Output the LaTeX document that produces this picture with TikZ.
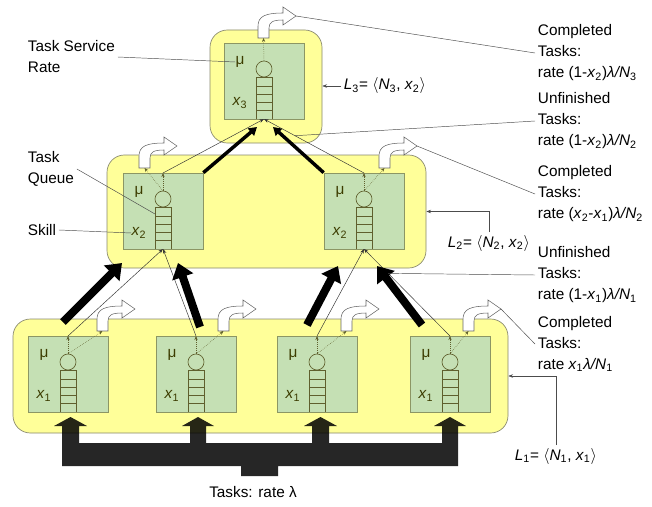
\documentclass[tikz,border=0pt]{standalone}
\usepackage{fontspec}
\setmainfont{Liberation Sans}
\usetikzlibrary{arrows.meta, calc, positioning}

\definecolor{groupyellow}{RGB}{255,255,153}
\definecolor{groupline}{RGB}{135,135,110}
\definecolor{agentgreen}{RGB}{197,224,180}
\definecolor{agentline}{RGB}{140,150,100}
\definecolor{olivetext}{RGB}{60,60,0}
\definecolor{queueline}{RGB}{95,95,45}

\tikzset{
  group/.style={draw=groupline, fill=groupyellow, rounded corners=13pt, inner sep=0pt, line width=0.5pt},
  agent/.style={draw=agentline, fill=agentgreen, minimum width=60pt, minimum height=57pt, inner sep=0pt, line width=0.5pt},
  agenttxt/.style={text=olivetext, inner sep=0pt, font=\fontsize{11.5}{14}\selectfont},
  queue/.style={draw=queueline, line width=0.5pt},
  outarrow/.style={draw=black!60, fill=white, line width=0.4pt},
  dotarrow/.style={densely dotted, draw=queueline, line width=0.4pt, -{Stealth[length=3pt,width=2.4pt]}},
  flow/.style={draw=black!80, line width=0.35pt, -{Stealth[length=3.5pt,width=2.6pt]}},
  bigflow/.style={line width=6pt, draw=black, -{Triangle[width=16pt,length=11pt]}},
  midflow/.style={line width=2.6pt, draw=black, -{Triangle[width=7pt,length=6pt]}},
  callout/.style={draw=black!70, line width=0.35pt},
  callarrow/.style={callout, -{Stealth[length=3.5pt,width=2.6pt]}},
  lbl/.style={font=\fontsize{11.5}{15.75}\selectfont, align=left, inner sep=2pt},
}

\begin{document}
\begin{tikzpicture}[x=0.75pt, y=-0.75pt]
    \useasboundingbox (0,0) rectangle (652,506);

    % levels
    \node[group, minimum width=84pt, minimum height=84.75pt] (g3) at (266,86.5) {};
    \node[group, minimum width=239.25pt, minimum height=84.75pt] (g2) at (266.5,211.5) {};
    \node[group, minimum width=371.25pt, minimum height=85.5pt] (g1) at (260.5,376) {};

    % incoming tasks
    \fill[black, fill opacity=0.85] (62,466) -- (62,426) -- (54,426) -- (70.5,417) -- (87,426) -- (79,426) -- (79,443)
        -- (190,443) -- (190,426) -- (182,426) -- (198,417) -- (214,426) -- (206,426) -- (206,443)
        -- (312,443) -- (312,426) -- (304,426) -- (320.5,417) -- (337,426) -- (329,426) -- (329,443)
        -- (442,443) -- (442,426) -- (434,426) -- (450,417) -- (466,426) -- (458,426) -- (458,466)
        -- (278,466) -- (278,476) -- (241,476) -- (241,466) -- cycle;

    % agents: name / x / y / skill index / offset of output arrow
    \foreach \n/\cx/\cy/\s/\ox in {t/264/81/3/-6, m1/163/211/2/-24, m2/364/211/2/15,
        b1/68/374/1/29, b2/196/374/1/22, b3/317/374/1/24, b4/450/374/1/13}{
        \node[agent] (\n) at (\cx,\cy) {};
        \node[agenttxt] (\n-mu) at (\cx-24,\cy-19) {μ};
        \node[agenttxt] (\n-x) at (\cx-24,\cy+22) {\textit{x}\textsubscript{\s}};
        \draw[queue] (\cx,\cy-12) circle[radius=6pt];
        \draw[queue] (\cx-8,\cy+38) -- (\cx-8,\cy-4) -- (\cx+8,\cy-4) -- (\cx+8,\cy+38);
        \foreach \q in {5,13,21,29}
            \draw[queue] (\cx-8,\cy+\q) -- (\cx+8,\cy+\q);
        \coordinate (\n-top) at (\cx,\cy-38);
        \coordinate (\n-bot) at (\cx,\cy+38);
        \coordinate (\n-srv) at (\cx,\cy-20);
        \coordinate (\n-qside) at (\cx-8,\cy+3);
        \coordinate (\n-out) at (\cx+\ox,\cy-43);
        \coordinate (\n-outc) at (\cx+\ox+5.5,\cy-43);
        \coordinate (\n-tip) at (\cx+\ox+38,\cy-65);
        \draw[outarrow, shift={(\n-out)}] (0,0) -- (0,-12) .. controls (0,-22) and (8,-25) .. (25,-25)
            -- (25,-31) -- (38,-22) -- (25,-13) -- (25,-18) .. controls (15,-18) and (11,-16) .. (11,-10) -- (11,0) -- cycle;
    }

    \foreach \n in {m1,m2,b1,b2,b3,b4}
        \draw[dotarrow] (\n-srv) -- (\n-top);
    \foreach \n in {t,m1,m2,b1,b2,b3,b4}
        \draw[dotarrow] (\n-srv) -- (\n-outc);

    % unfinished tasks passed upwards
    \draw[flow] (b1-top) -- (m1-bot);
    \draw[flow] (b2-top) -- (m1-bot);
    \draw[flow] (b3-top) -- (m2-bot);
    \draw[flow] (b4-top) -- (m2-bot);
    \draw[flow] (m1-top) -- (t-bot);
    \draw[flow] (m2-top) -- (t-bot);

    % level to level
    \coordinate (u1) at (63,322);  \coordinate (v1) at (122,263);
    \coordinate (u2) at (200,327); \coordinate (v2) at (178,263);
    \coordinate (u3) at (307,325); \coordinate (v3) at (338,266);
    \coordinate (u4) at (422,325); \coordinate (v4) at (377,266);
    \draw[bigflow] (u1) -- (v1);
    \draw[bigflow] (u2) -- (v2);
    \draw[bigflow] (u3) -- (v3);
    \draw[bigflow] (u4) -- (v4);
    \coordinate (w1) at (257,127);
    \coordinate (w2) at (273,127);
    \draw[midflow] (m1.north east) -- (w1);
    \draw[midflow] (m2.north west) -- (w2);

    % left labels
    \node[lbl, anchor=west] (lrate) at (25,57) {Task Service\\Rate};
    \node[lbl, anchor=west] (lqueue) at (25,169) {Task\\Queue};
    \node[lbl, anchor=west] (lskill) at (25,230) {Skill};
    \draw[callout] (lrate.east) -- (t-mu.west);
    \draw[callout] (lqueue.east) -- (m1-qside);
    \draw[callout] (lskill.east) -- (m1-x.west);

    % right labels
    \node[lbl, anchor=west] (done3) at (535,53) {Completed\\Tasks:\\rate (1-\textit{x}\textsubscript{2})\textit{λ/N}\textsubscript{3}};
    \node[lbl, anchor=west] (unf2) at (535,121) {Unfinished\\Tasks:\\rate (1-\textit{x}\textsubscript{2})\textit{λ/N}\textsubscript{2}};
    \node[lbl, anchor=west] (done2) at (535,194) {Completed\\Tasks:\\rate (\textit{x}\textsubscript{2}-\textit{x}\textsubscript{1})\textit{λ/N}\textsubscript{2}};
    \node[lbl, anchor=west] (unf1) at (535,275) {Unfinished\\Tasks:\\rate (1-\textit{x}\textsubscript{1})\textit{λ/N}\textsubscript{1}};
    \node[lbl, anchor=west] (done1) at (535,344) {Completed\\Tasks:\\rate \textit{x}\textsubscript{1}\textit{λ/N}\textsubscript{1}};
    \draw[callout] (done3.west) -- (t-tip);
    \draw[callout] (unf2.west) -- ($(m2-top)!0.69!(t-bot)$);
    \draw[callout] (done2.west) -- (m2-tip);
    \draw[callout] (unf1.west) -- ($(b4-top)!0.72!(m2-bot)$);
    \draw[callout] (done1.west) -- (b4-tip);

    % level tuples
    \node[lbl, anchor=west] (lev3) at (341,86) {\textit{L}\textsubscript{3}= $\langle$\textit{N}\textsubscript{3}, \textit{x}\textsubscript{2}$\rangle$};
    \node[lbl, anchor=west] (lev2) at (445,243) {\textit{L}\textsubscript{2}= $\langle$\textit{N}\textsubscript{2}, \textit{x}\textsubscript{2}$\rangle$};
    \node[lbl, anchor=west] (lev1) at (512,456) {\textit{L}\textsubscript{1}= $\langle$\textit{N}\textsubscript{1}, \textit{x}\textsubscript{1}$\rangle$};
    \draw[callarrow] (lev3.west) -- (lev3.west -| g3.east);
    \draw[callarrow] (lev2.north) |- (g2.east);
    \draw[callarrow] (lev1.north) |- (g1.east);

    \node[lbl] (tasks) at (253,492) {Tasks: rate λ};
\end{tikzpicture}
\end{document}
